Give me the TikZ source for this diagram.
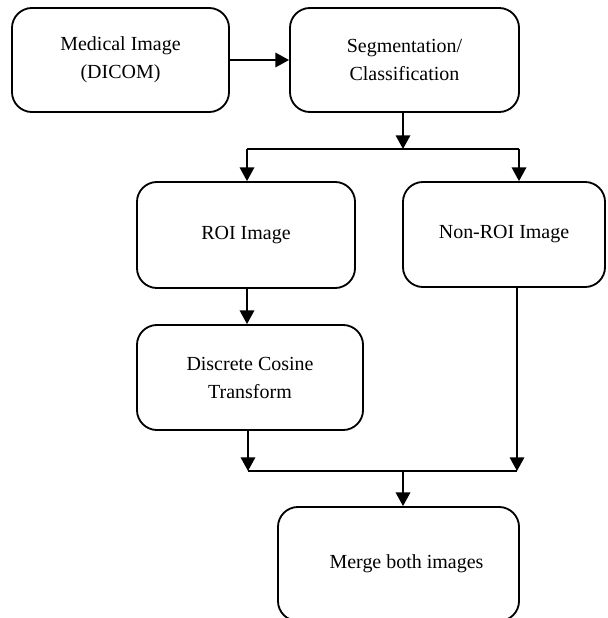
\documentclass[tikz,border=0pt]{standalone}
\usepackage{fontspec}
\setmainfont{Liberation Serif}
\usetikzlibrary{arrows.meta}
\begin{document}
\begin{tikzpicture}[x=0.025cm, y=-0.025cm,
  box/.style={draw, rounded corners=0.5cm, line width=1.3pt, align=center,
    inner sep=0pt, font=\fontsize{14.2}{19.9}\selectfont},
  arr/.style={line width=1.3pt, -{Triangle[length=0.34cm,width=0.36cm]}},
  ln/.style={line width=1.3pt}]
\clip (0,0) rectangle (607,618);

\node[box, minimum width=5.425cm, minimum height=2.6cm] (med) at (120.5,60) {Medical Image\\(DICOM)};
\node[box, minimum width=5.725cm, minimum height=2.6cm] (seg) at (404.5,60) {Segmentation/\\Classification};
\node[box, minimum width=5.45cm, minimum height=2.65cm] (roi) at (246,235) {ROI Image};
\node[box, minimum width=5.05cm, minimum height=2.625cm] (nonroi) at (504,234.5) {Non-ROI Image};
\node[box, minimum width=5.65cm, minimum height=2.625cm] (dct) at (250,377.5) {Discrete Cosine\\Transform};
\node[box, minimum width=6.025cm, minimum height=2.85cm] (merge) at (398.5,564) {\hspace{0.4cm}Merge both images};

\coordinate (split) at (403,149);
\coordinate (ls) at (247,149);
\coordinate (rs) at (519,149);
\coordinate (join) at (403,471);
\coordinate (jl) at (248,471);
\coordinate (jr) at (517,471);

\draw[arr] (med) -- (seg);
\draw[arr] (seg.south -| split) -- (split);
\draw[ln] (ls) -- (rs);
\draw[arr] (ls) -- (ls |- roi.north);
\draw[arr] (rs) -- (rs |- nonroi.north);
\draw[arr] (ls |- roi.south) -- (ls |- dct.north);

\draw[arr] (dct.south -| jl) -- (jl);
\draw[arr] (nonroi.south -| jr) -- (jr);
\draw[ln] (jl) -- (jr);
\draw[arr] (join) -- (join |- merge.north);
\end{tikzpicture}
\end{document}
